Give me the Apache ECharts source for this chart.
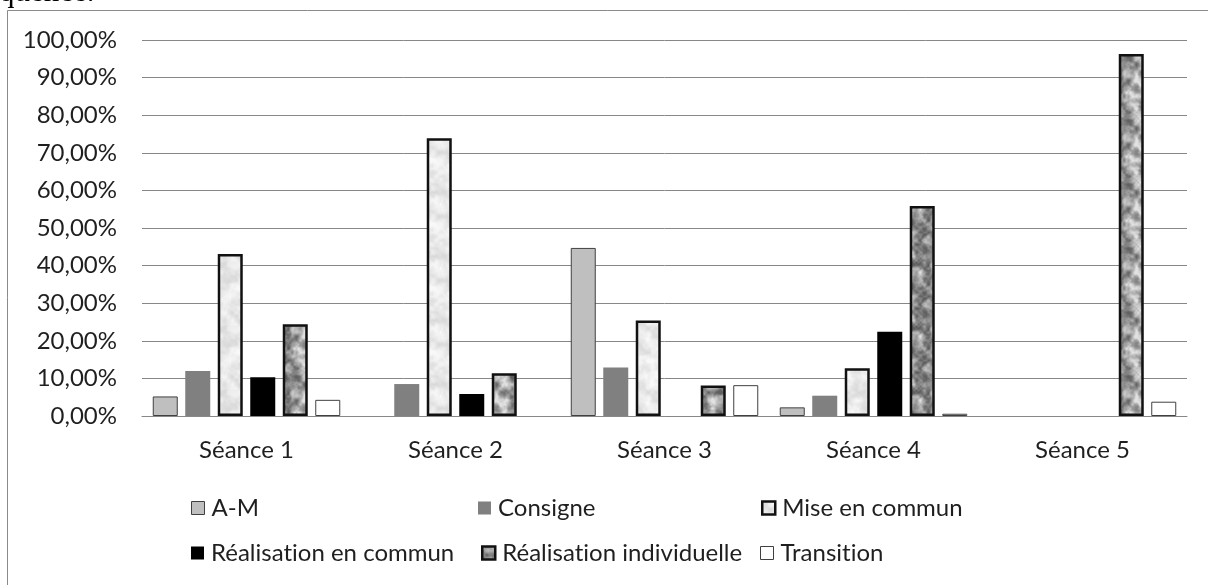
<!DOCTYPE html>
<html>
<head>
<meta charset="utf-8">
<title>Séances</title>
<script src="https://cdn.jsdelivr.net/npm/echarts@6/dist/echarts.min.js"></script>
<style>
  html, body { margin: 0; padding: 0; background: #fff; }
  #chart { width: 1208px; height: 585px; }
</style>
</head>
<body>
<div id="chart"></div>
<script>
// Sessions on the category axis
const categories = ['Séance 1', 'Séance 2', 'Séance 3', 'Séance 4', 'Séance 5'];

// Share of time (%) per activity type in each session (null = no bar)
const amValues          = [5.2, null, 44.7, 2.3, null];
const consigneValues    = [12.0, 8.5, 12.9, 5.4, null];
const miseValues        = [43.1, 73.9, 25.4, 12.7, null];
const realCommunValues  = [10.3, 5.85, null, 22.4, null];
const realIndivValues   = [24.4, 11.35, 8.1, 55.85, 96.3];
const transitionValues  = [4.3, null, 8.2, 0.6, 3.8];

const seriesNames = ['A-M', 'Consigne', 'Mise en commun', 'Réalisation en commun', 'Réalisation individuelle', 'Transition'];

// Value axis ticks
const yMin = 0, yMax = 100, yStep = 10;

const FONT = 'Lato, "Open Sans", sans-serif';
const TEXT = '#1f1f1f';

// Keep "t" + "i" from being drawn as a ligature
const noLig = (s) => s.replace(/ti/g, 't\u200Ci');

// Deterministic hash-based value noise used for the textured bar fills
function hash(x, y, seed) {
  let h = Math.imul(x, 374761393) + Math.imul(y, 668265263) + Math.imul(seed, 1442695041);
  h = Math.imul(h ^ (h >>> 13), 1274126177);
  h = h ^ (h >>> 16);
  return (h >>> 0) / 4294967295;
}
function smooth(t) { return t * t * (3 - 2 * t); }
function valueNoise(px, py, cell, size, seed) {
  const n = size / cell;
  const gx = px / cell, gy = py / cell;
  const x0 = Math.floor(gx), y0 = Math.floor(gy);
  const fx = smooth(gx - x0), fy = smooth(gy - y0);
  const w = (a) => ((a % n) + n) % n;
  const v00 = hash(w(x0), w(y0), seed), v10 = hash(w(x0 + 1), w(y0), seed);
  const v01 = hash(w(x0), w(y0 + 1), seed), v11 = hash(w(x0 + 1), w(y0 + 1), seed);
  const a = v00 + (v10 - v00) * fx, b = v01 + (v11 - v01) * fx;
  return a + (b - a) * fy;
}
function makeTexture(size, seed, lo, hi, contrast) {
  const c = document.createElement('canvas');
  c.width = size; c.height = size;
  const ctx = c.getContext('2d');
  const img = ctx.createImageData(size, size);
  for (let y = 0; y < size; y++) {
    for (let x = 0; x < size; x++) {
      let v = 0.55 * valueNoise(x, y, 8, size, seed)
            + 0.3 * valueNoise(x, y, 4, size, seed + 7)
            + 0.15 * valueNoise(x, y, 2, size, seed + 13);
      v = Math.min(1, Math.max(0, 0.5 + (v - 0.5) * contrast));
      const g = Math.round(lo + (hi - lo) * v);
      const i = (y * size + x) * 4;
      img.data[i] = g; img.data[i + 1] = g; img.data[i + 2] = g; img.data[i + 3] = 255;
    }
  }
  ctx.putImageData(img, 0, 0);
  return c;
}
const lightTexture = makeTexture(64, 3, 218, 248, 1.8);
const graniteTexture = makeTexture(64, 11, 95, 225, 1.8);

const styles = [
  { color: '#bfbfbf', borderColor: '#404040', borderWidth: 1 },
  { color: '#808080', borderColor: '#808080', borderWidth: 0 },
  { color: { image: lightTexture, repeat: 'repeat' }, borderColor: '#111', borderWidth: 2.5 },
  { color: '#000000', borderColor: '#000', borderWidth: 0 },
  { color: { image: graniteTexture, repeat: 'repeat' }, borderColor: '#111', borderWidth: 2.5 },
  { color: '#ffffff', borderColor: '#404040', borderWidth: 1 }
];
const values = [amValues, consigneValues, miseValues, realCommunValues, realIndivValues, transitionValues];

const series = seriesNames.map((name, i) => ({
  name,
  type: 'bar',
  data: values[i],
  barWidth: 25,
  barGap: '30%',
  itemStyle: styles[i],
  emphasis: { disabled: true },
  animation: false
}));

// Legend laid out in three columns, two rows
const legendSlots = [
  { left: 191, top: 495 }, { left: 478, top: 495 }, { left: 761, top: 495 },
  { left: 191, top: 540 }, { left: 481, top: 540 }, { left: 760, top: 540 }
];
const legends = seriesNames.map((name, i) => ({
  data: [name],
  left: legendSlots[i].left,
  top: legendSlots[i].top,
  padding: 0,
  icon: 'rect',
  itemWidth: 13,
  itemHeight: 13,
  itemGap: 0,
  formatter: noLig,
  textStyle: { fontFamily: FONT, fontSize: 24, color: TEXT, lineHeight: 26, padding: [0, 0, 0, 2] },
  itemStyle: { borderWidth: styles[i].borderWidth > 2 ? 2.5 : styles[i].borderWidth }
}));

const chart = echarts.init(document.getElementById('chart'), null, { renderer: 'canvas' });
chart.setOption({
  backgroundColor: '#ffffff',
  animation: false,
  grid: { left: 142, right: 21, top: 40, bottom: 169, containLabel: false },
  xAxis: {
    type: 'category',
    data: categories,
    axisLine: { lineStyle: { color: '#878787', width: 1 } },
    axisTick: { show: false },
    axisLabel: { fontFamily: FONT, fontSize: 24, color: TEXT, margin: 22 }
  },
  yAxis: {
    type: 'value',
    min: yMin, max: yMax, interval: yStep,
    axisLine: { show: false },
    axisTick: { show: false },
    splitLine: { lineStyle: { color: '#878787', width: 1 } },
    axisLabel: {
      fontFamily: FONT, fontSize: 24, color: TEXT, margin: 25,
      formatter: (v) => v.toFixed(2).replace('.', ',') + '%'
    }
  },
  legend: legends,
  graphic: [
    {
      type: 'text', x: -1, y: -7, silent: true,
      style: { text: 'quence.', font: '31px "Liberation Serif", serif', fill: '#000', verticalAlign: 'middle' }
    },
    {
      type: 'polyline', silent: true,
      shape: { points: [[7.5, 585], [7.5, 10.5], [1208, 10.5]] },
      style: { stroke: '#8a8a8a', lineWidth: 1, fill: null }
    }
  ],
  series
});
</script>
</body>
</html>
